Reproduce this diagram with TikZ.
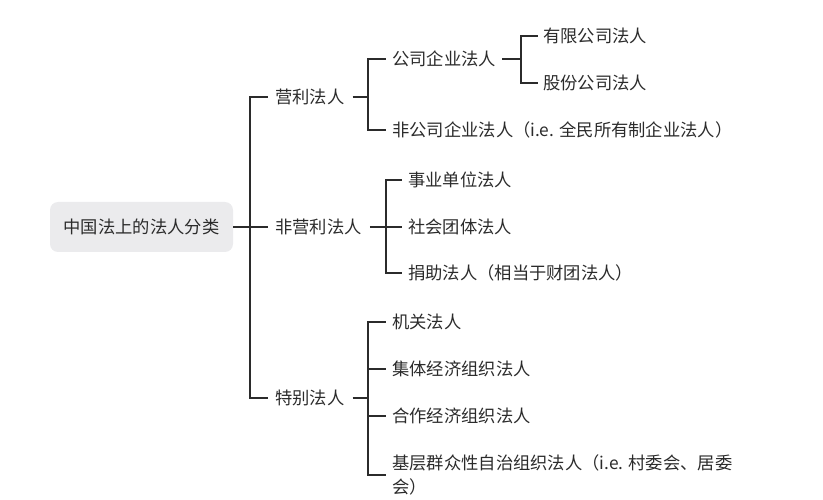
\documentclass[tikz,border=0pt]{standalone}
\usepackage{fontspec}
\setmainfont{Noto Sans CJK SC}
\usetikzlibrary{calc}
\definecolor{ink}{HTML}{2B2B2B}
\definecolor{rootfill}{HTML}{EBEBED}
\begin{document}
\begin{tikzpicture}[x=1pt,y=-1pt,
  lbl/.style={anchor=west, inner sep=0pt, font=\fontsize{17.3}{24}\selectfont, text=ink},
  conn/.style={draw=ink, line width=1.2pt}]
\useasboundingbox (0,0) rectangle (823,500);
\node[fill=rootfill, rounded corners=8pt, minimum width=183pt, minimum height=50pt, inner sep=0pt,
  font=\fontsize{17.3}{24}\selectfont, text=ink] (root) at (141.5,227) {中国法上的法人分类};
% level 1
\node[lbl] (yl) at (275,97) {营利法人};
\node[lbl] (fyl) at (275,227) {非营利法人};
\node[lbl] (tb) at (275,398) {特别法人};
% level 2
\node[lbl] (gsqy) at (392,59) {公司企业法人};
\node[lbl] (fgs) at (392,130) {非公司企业法人（i.e. 全民所有制企业法人）};
\node[lbl] (sy) at (408,180) {事业单位法人};
\node[lbl] (sh) at (408,227) {社会团体法人};
\node[lbl] (jz) at (408,273) {捐助法人（相当于财团法人）};
\node[lbl] (jg) at (392,322) {机关法人};
\node[lbl] (jt) at (392,369) {集体经济组织法人};
\node[lbl] (hz) at (392,416) {合作经济组织法人};
\node[lbl, align=left] (jc) at (392,475) {基层群众性自治组织法人（i.e. 村委会、居委\\会）};
% level 3
\node[lbl] (yx) at (543,36) {有限公司法人};
\node[lbl] (gf) at (543,83) {股份公司法人};
% junctions
\coordinate (j0) at (250,227);
\coordinate (j1) at (368,97);
\coordinate (j2) at (521,59);
\coordinate (j3) at (386,227);
\coordinate (j4) at (368,398);
% connectors
\draw[conn] (root.east) -- (j0);
\foreach \c in {yl,fyl,tb} \draw[conn] (j0) |- ([xshift=-7pt]\c.west);
\draw[conn] ([xshift=8pt]yl.east) -- (j1);
\foreach \c in {gsqy,fgs} \draw[conn] (j1) |- ([xshift=-6pt]\c.west);
\draw[conn] ([xshift=6pt]gsqy.east) -- (j2);
\foreach \c in {yx,gf} \draw[conn] (j2) |- ([xshift=-5pt]\c.west);
\draw[conn] ([xshift=8pt]fyl.east) -- (j3);
\foreach \c in {sy,sh,jz} \draw[conn] (j3) |- ([xshift=-6pt]\c.west);
\draw[conn] ([xshift=8pt]tb.east) -- (j4);
\foreach \c in {jg,jt,hz,jc} \draw[conn] (j4) |- ([xshift=-6pt]\c.west);
\end{tikzpicture}
\end{document}
